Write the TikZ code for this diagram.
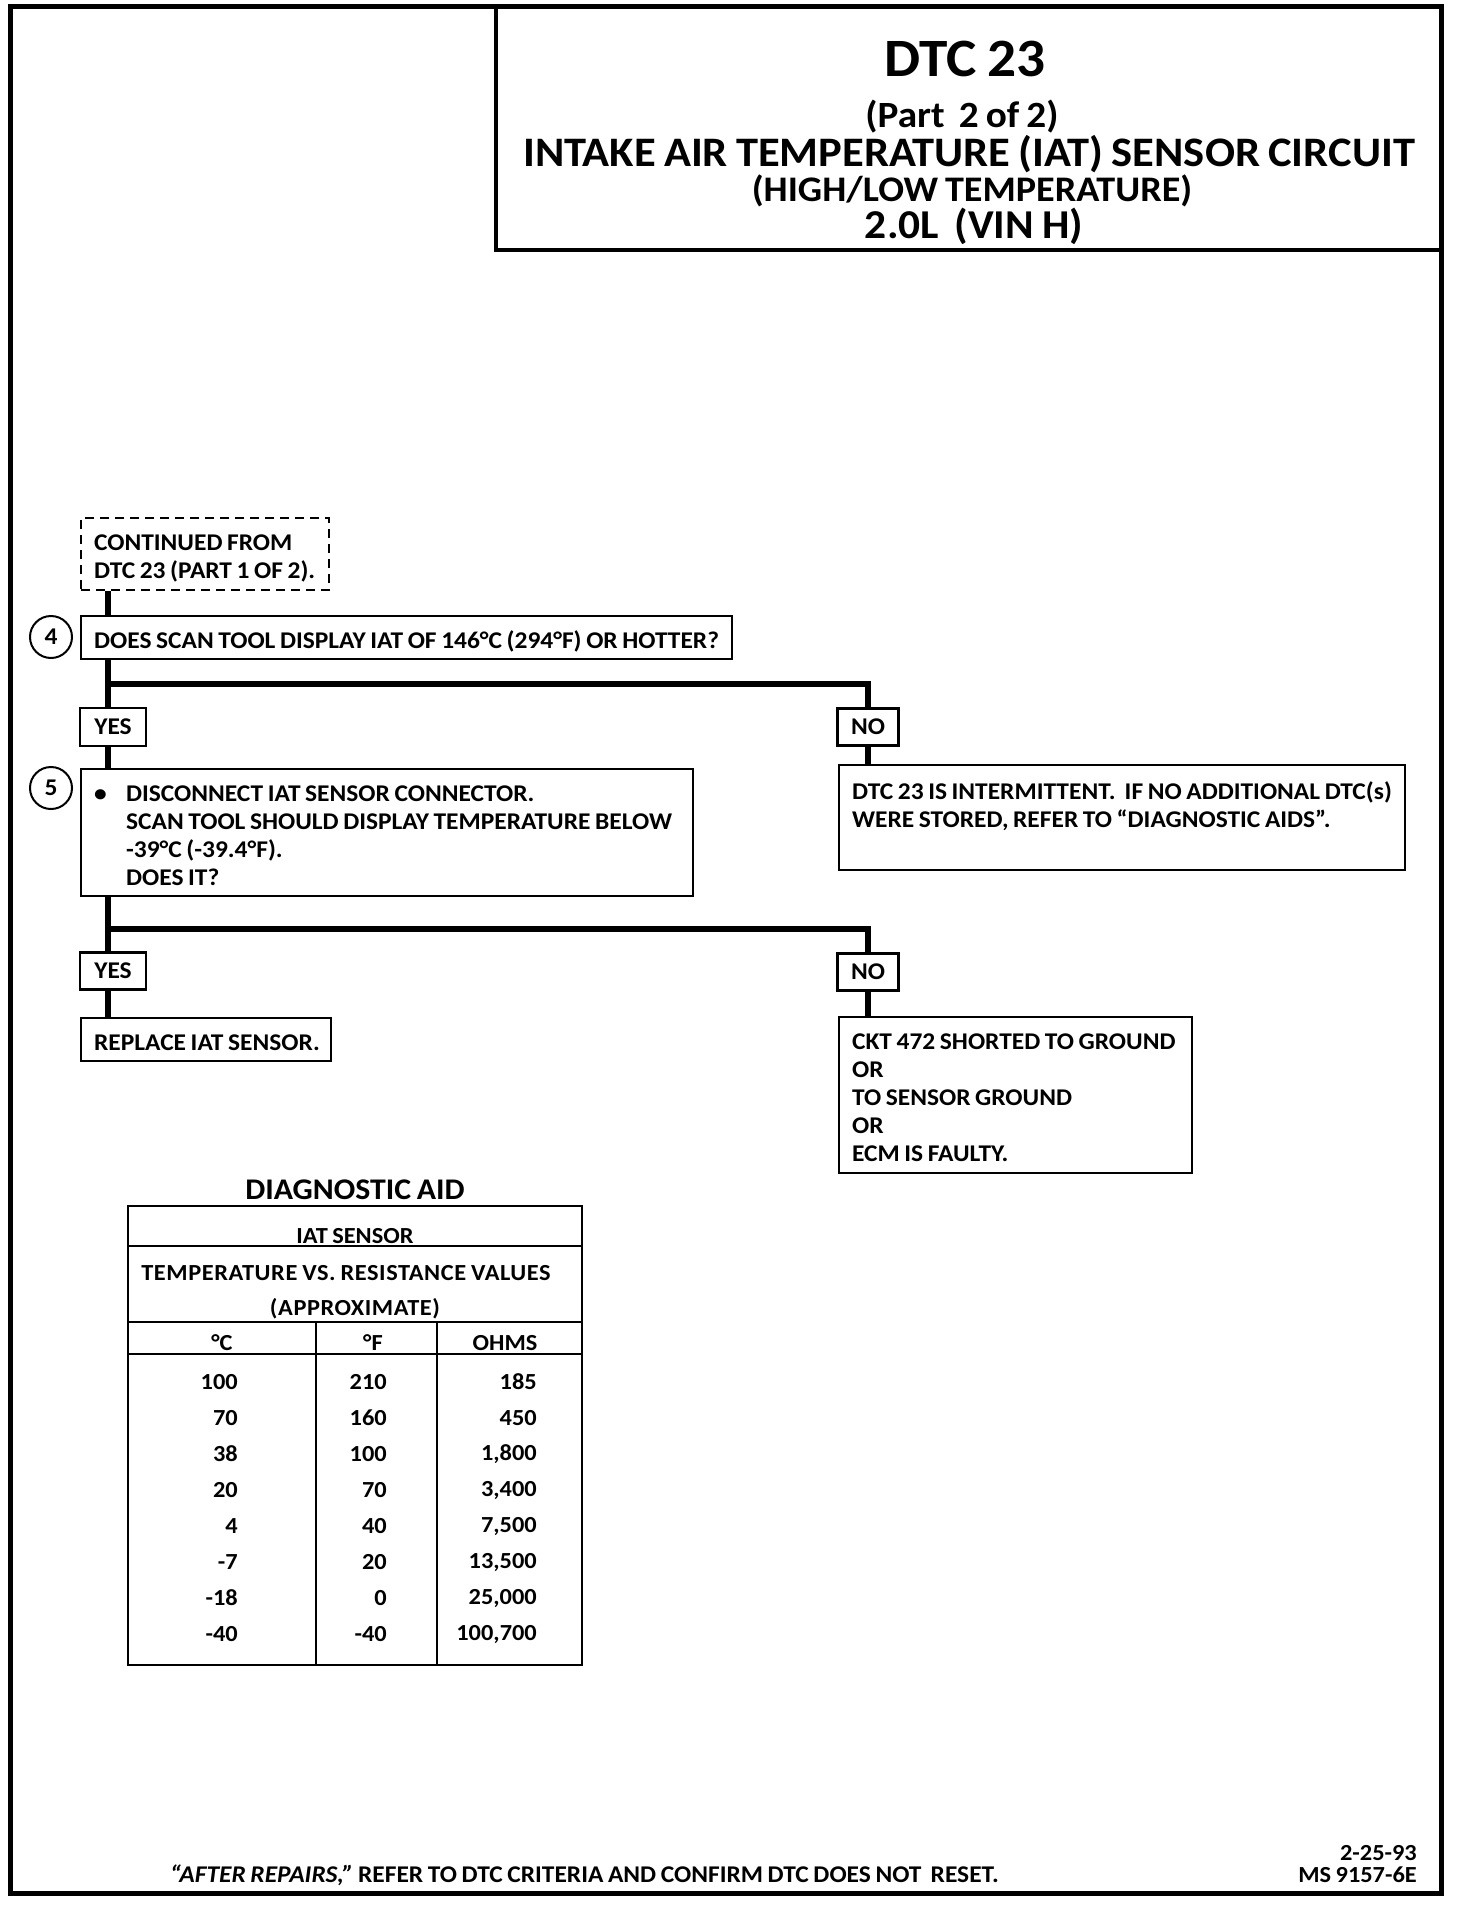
\documentclass[tikz,border=0pt]{standalone}
\usepackage{fontspec}
\setmainfont{Carlito}[FakeStretch=1.06, WordSpace=0.8]
\newcommand{\dtcbody}{\fontsize{24}{28}\selectfont\bfseries}
\newcommand{\dtccell}{\fontsize{23}{28}\selectfont\bfseries}
\newcommand{\dtcsize}[1]{\fontsize{#1}{#1}\selectfont\bfseries}
% fixed-width, left-aligned block of lines (no wrapping)
\newcommand{\dtctext}[2]{\makebox[#1pt][l]{\begin{tabular}{@{}l@{}}\rule{0pt}{29.6pt}#2\end{tabular}}}
\tikzstyle{flowbox}=[draw, line width=2.2pt, anchor=north west, inner xsep=13pt, inner ysep=0pt, font=\dtcbody]
\tikzstyle{answer}=[draw, line width=2.2pt, inner sep=0pt, font=\dtcbody]
\tikzstyle{stepnum}=[draw, circle, line width=2pt, minimum size=42pt, inner sep=0pt, font=\dtcbody]
\tikzstyle{link}=[line width=6pt]
\tikzstyle{cell}=[inner sep=0pt, font=\dtccell]

\begin{document}
\begin{tikzpicture}[x=1pt,y=-1pt]
\useasboundingbox (0,0) rectangle (1472,1908);
% page frame and title block
\draw[line width=5pt] (10,7) rectangle (1441,1893);
\draw[line width=4pt] (496,7) rectangle (1441,250);
\node[font=\dtcsize{54}] (title) at (965,59) {DTC 23};
\node[font=\dtcsize{37}] (part) at (962,117) {(Part\ \ 2 of 2)};
\node[font=\dtcsize{42}] (circuit) at (969,154) {INTAKE AIR TEMPERATURE (IAT) SENSOR CIRCUIT};
\node[font=\dtcsize{36}] (temp) at (972,191) {(HIGH/LOW TEMPERATURE)};
\node[font=\dtcsize{41}] (engine) at (974,226) {2.0L\ \ (VIN H)};

% flow chart
\coordinate (trunk) at (108,0);
\node[flowbox, dashed, dash pattern=on 9pt off 6pt, minimum height=72pt] (cont) at (80,517) {\dtctext{222}{CONTINUED FROM\\DTC 23 (PART 1 OF 2).}};
\node[flowbox, minimum height=43pt] (q4) at (80,615) {\dtctext{625}{DOES SCAN TOOL DISPLAY IAT OF 146°C (294°F) OR HOTTER?}};
\node[stepnum] (c4) at (51,637) {4};
\node[answer, minimum width=66pt, minimum height=38pt] (y1) at (113,727) {YES};
\node[answer, minimum width=61pt, minimum height=37pt] (n1) at (868,727) {NO};
\node[flowbox, minimum height=127pt] (q5) at (80,768) {\dtctext{586}{\makebox[32pt][l]{\textbullet}DISCONNECT IAT SENSOR CONNECTOR.\\\hspace*{32pt}SCAN TOOL SHOULD DISPLAY TEMPERATURE BELOW\\\hspace*{32pt}-39°C (-39.4°F).\\\hspace*{32pt}DOES IT?}};
\node[stepnum] (c5) at (51,788) {5};
\node[flowbox, minimum height=105pt] (r1) at (838,764) {\dtctext{540}{DTC 23 IS INTERMITTENT.\ \ IF NO ADDITIONAL DTC(s)\\WERE STORED, REFER TO “DIAGNOSTIC AIDS”.\rule[-37pt]{0pt}{0pt}}};
\node[answer, minimum width=66pt, minimum height=37pt] (y2) at (113,971) {YES};
\node[answer, minimum width=61pt, minimum height=37pt] (n2) at (868,972) {NO};
\node[flowbox, minimum height=43pt] (r2) at (80,1017) {\dtctext{224}{REPLACE IAT SENSOR.}};
\node[flowbox, minimum height=156pt] (r3) at (838,1016) {\dtctext{327}{CKT 472 SHORTED TO GROUND\\OR\\TO SENSOR GROUND\\OR\\ECM IS FAULTY.}};

\coordinate (b1) at (108,684);
\coordinate (b2) at (108,929);
\draw[link] (cont.south -| trunk) -- (q4.north -| trunk);
\draw[link] (q4.south -| trunk) -- (y1.north -| trunk);
\draw[link] (b1) -| (n1.north);
\draw[link] (y1.south -| trunk) -- (q5.north -| trunk);
\draw[link] (n1.south) -- (n1.south |- r1.north);
\draw[link] (q5.south -| trunk) -- (y2.north -| trunk);
\draw[link] (b2) -| (n2.north);
\draw[link] (y2.south -| trunk) -- (r2.north -| trunk);
\draw[link] (n2.south) -- (n2.south |- r3.north);

% diagnostic aid table
\node[font=\dtcsize{30}] (aid) at (355,1190) {DIAGNOSTIC AID};
\draw[line width=2.5pt] (128,1206) rectangle (582,1665);
\draw[line width=2pt] (128,1246) -- (582,1246);
\draw[line width=2pt] (128,1322) -- (582,1322);
\draw[line width=2pt] (128,1354) -- (582,1354);
\draw[line width=2pt] (316,1322) -- (316,1665);
\draw[line width=2pt] (437,1322) -- (437,1665);
\node[cell] (sensor) at (355,1236) {IAT SENSOR};
\node[cell] (vs) at (346,1273) {\addfontfeature{LetterSpace=2.5}TEMPERATURE VS. RESISTANCE VALUES};
\node[cell] (approx) at (355,1309) {\addfontfeature{LetterSpace=2.5}(APPROXIMATE)};
\node[cell] (degc) at (222,1343) {°C};
\node[cell] (degf) at (373,1343) {°F};
\node[cell] (ohms) at (505,1343) {OHMS};
\foreach \c/\f/\o [count=\i from 0] in {100/210/185, 70/160/450, 38/100/{1,800}, 20/70/{3,400}, 4/40/{7,500}, -7/20/{13,500}, -18/0/{25,000}, -40/-40/{100,700}}
{
  \node[cell, anchor=east] at (238,1382+36*\i) {\c};
  \node[cell, anchor=east] at (387,1382+36*\i) {\f};
  \node[cell, anchor=east] at (537,1382+36*\i) {\o};
}

% footer
\node[anchor=west, inner sep=0pt, font=\dtcbody] (repairs) at (170,1875) {\textit{“AFTER REPAIRS,”} REFER TO DTC CRITERIA AND CONFIRM DTC DOES NOT\ \ RESET.};
\node[cell, anchor=east] (date) at (1417,1853) {2-25-93};
\node[cell, anchor=east] (ms) at (1417,1875) {MS 9157-6E};
\end{tikzpicture}
\end{document}
